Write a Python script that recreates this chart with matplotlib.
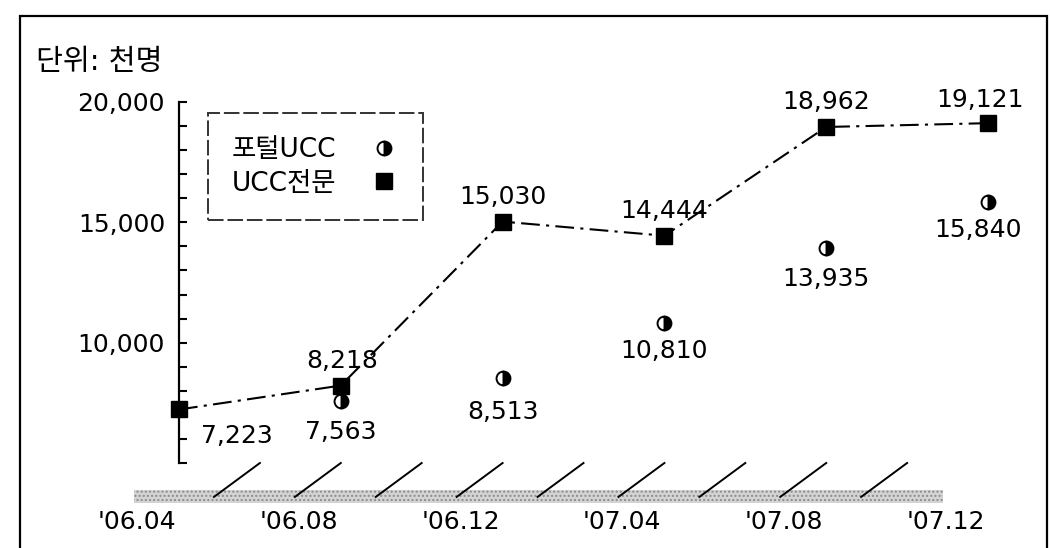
import numpy as np
import matplotlib
matplotlib.use("Agg")
import matplotlib.pyplot as plt
from matplotlib.lines import Line2D
from matplotlib.patches import Rectangle

# -- fonts --
plt.rcParams['font.family'] = ['DejaVu Sans', 'Noto Sans CJK KR']

# -- data --
periods = ["'06.04", "'06.08", "'06.12", "'07.04", "'07.08", "'07.12"]
ucc_only = [7223, 8218, 15030, 14444, 18962, 19121]      # UCC전문
portal_idx = [1, 2, 3, 4, 5]
portal = [7563, 8513, 10810, 13935, 15840]                # 포털UCC
y_ticks = [10000, 15000, 20000]

W, H = 1050, 548
fig = plt.figure(figsize=(W / 100, H / 100), dpi=100)

# outer frame
fig.patches.append(Rectangle((20 / W, -0.05), 1027 / W, 1.05 - 16 / H,
                             transform=fig.transFigure, fill=False,
                             edgecolor='black', lw=1.6))

ax = fig.add_axes([179 / W, (H - 463) / H, (988 - 179) / W, (463 - 102) / H])
for s in ['top', 'right', 'bottom']:
    ax.spines[s].set_visible(False)
ax.spines['left'].set_linewidth(1.6)

ax.set_yticks(y_ticks)
ax.set_yticklabels([f"{v:,}" for v in y_ticks], fontsize=18)
ax.set_yticks(np.arange(5000, 20001, 1000), minor=True)
ax.tick_params(axis='y', which='both', direction='in', length=6, width=1.5, pad=10)
ax.set_xticks([])

ax.set_xlim(0, 5)
ax.set_ylim(5000, 20000)

# floor of the perspective x axis
depth = 0.284
floor_y = 3590
ax.add_patch(Rectangle((-0.28, 3340), 5.0, 540, facecolor='#d4d4d4',
                       edgecolor='#8c8c8c', hatch='....', lw=0, clip_on=False))
for x in np.arange(0.5, 4.51, 0.5):
    ax.plot([x - depth, x], [floor_y, 5000], color='black', lw=1.4, clip_on=False)

# category labels sit on the front edge of the floor
for i, p in enumerate(periods):
    ax.text(i - 0.26, -0.163, p, transform=ax.get_xaxis_transform(),
            ha='center', va='center', fontsize=18, clip_on=False)

dashdot = (0, (9, 3, 1.5, 3))
x_ucc = np.arange(len(ucc_only))
ax.plot(x_ucc, ucc_only, color='black', lw=1.5, linestyle=dashdot,
        marker='s', markersize=12, markerfacecolor='black', clip_on=False, zorder=3)
ax.plot(portal_idx, portal, linestyle='none', marker='o', markersize=10,
        fillstyle='right', markerfacecolor='black', markerfacecoloralt='white',
        markeredgecolor='black', markeredgewidth=1.4, clip_on=False, zorder=3)
ax.set_xlim(0, 5)
ax.set_ylim(5000, 20000)

# value labels
ucc_off = [(42, -19), (1, 18), (0, 18), (0, 18), (0, 18), (-6, 17)]
for x, v, off in zip(x_ucc, ucc_only, ucc_off):
    ax.annotate(f"{v:,}", (x, v), xytext=off, textcoords='offset points',
                ha='center', va='center', fontsize=18, annotation_clip=False)
portal_off = [(0, -22), (0, -24), (0, -20), (0, -22), (-7, -20)]
for x, v, off in zip(portal_idx, portal, portal_off):
    ax.annotate(f"{v:,}", (x, v), xytext=off, textcoords='offset points',
                ha='center', va='center', fontsize=18, annotation_clip=False)

fig.text(36 / W, 1 - 62 / H, "단위: 천명", fontsize=21, va='center', ha='left')

handles = [
    Line2D([], [], linestyle='none', marker='o', markersize=10, fillstyle='right',
           markerfacecolor='black', markerfacecoloralt='white',
           markeredgecolor='black', markeredgewidth=1.4),
    Line2D([], [], linestyle='none', marker='s', markersize=12,
           markerfacecolor='black', markeredgecolor='black'),
]
leg = ax.legend(handles, ["포털UCC", "UCC전문"], loc='upper left',
                bbox_to_anchor=(208 / W, 1 - 113 / H), bbox_transform=fig.transFigure,
                borderaxespad=0, markerfirst=False, fancybox=False, frameon=True,
                prop={'size': 19}, handlelength=1.2, handletextpad=1.2,
                labelspacing=0.3, borderpad=0.9)
fr = leg.get_frame()
fr.set_edgecolor('black')
fr.set_linewidth(1.4)
fr.set_linestyle((0, (8, 2)))

fig.savefig("out.png", dpi=100)
